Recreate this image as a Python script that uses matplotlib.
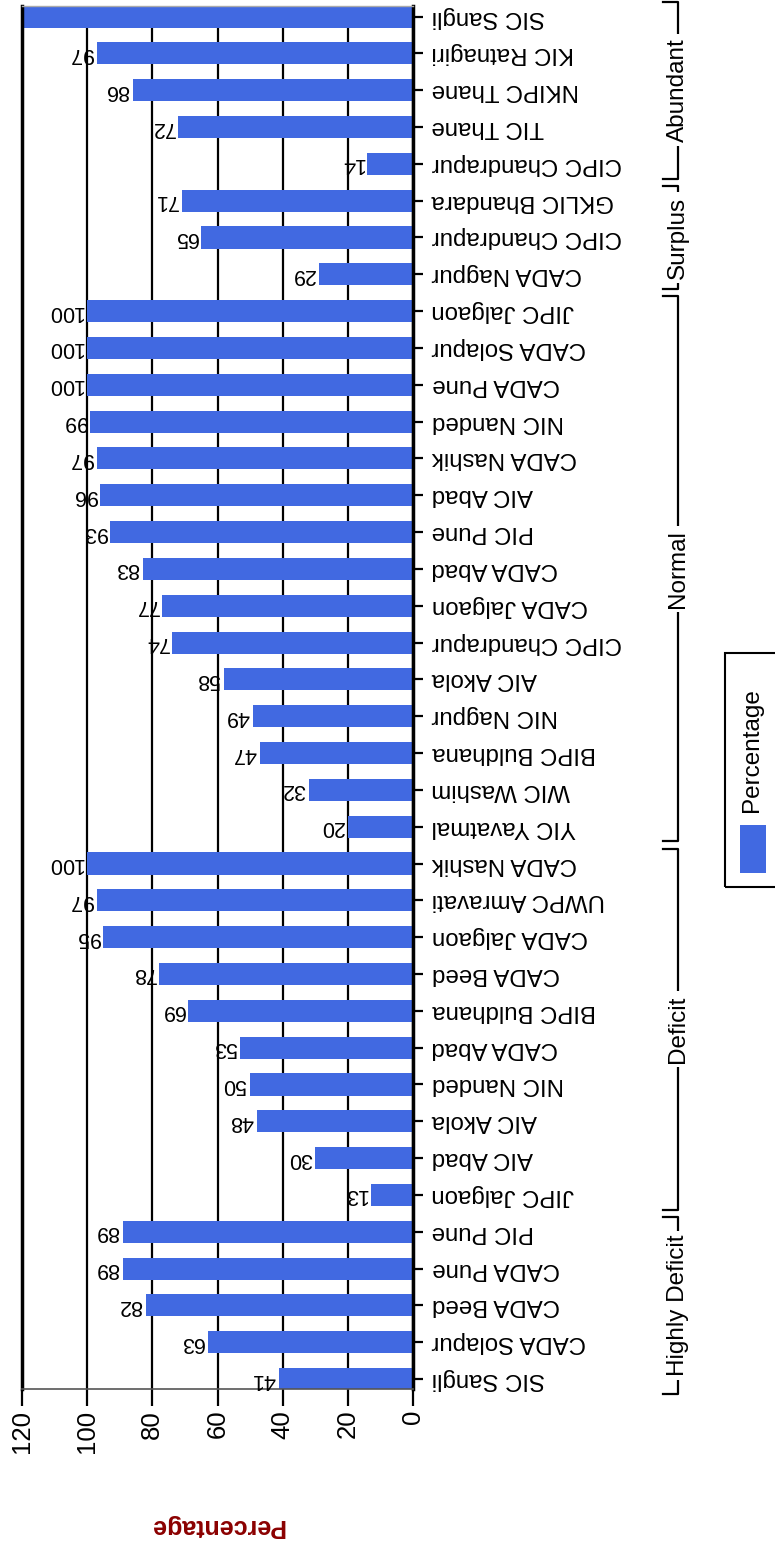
import matplotlib
matplotlib.use('Agg')
import matplotlib.pyplot as plt
from matplotlib.patches import Rectangle
from matplotlib.transforms import blended_transform_factory

plt.rcParams['font.family'] = ['Liberation Sans', 'DejaVu Sans']

# schemes in plotting order (bottom -> top)
schemes = ['SIC Sangli', 'CADA Solapur', 'CADA Beed', 'CADA Pune', 'PIC Pune',
           'JIPC Jalgaon', 'AIC Abad', 'AIC Akola', 'NIC Nanded', 'CADA Abad',
           'BIPC Buldhana', 'CADA Beed', 'CADA Jalgaon', 'UWPC Amravati', 'CADA Nashik',
           'YIC Yavatmal', 'WIC Washim', 'BIPC Buldhana', 'NIC Nagpur', 'AIC Akola',
           'CIPC Chandrapur', 'CADA Jalgaon', 'CADA Abad', 'PIC Pune', 'AIC Abad',
           'CADA Nashik', 'NIC Nanded', 'CADA Pune', 'CADA Solapur', 'JIPC Jalgaon',
           'CADA Nagpur', 'CIPC Chandrapur', 'GKLIC Bhandara',
           'CIPC Chandrapur', 'TIC Thane', 'NKIPC Thane', 'KIC Ratnagiri', 'SIC Sangli']
pct = [41, 63, 82, 89, 89,
       13, 30, 48, 50, 53, 69, 78, 95, 97, 100,
       20, 32, 47, 49, 58, 74, 77, 83, 93, 96, 97, 99, 100, 100, 100,
       29, 65, 71,
       14, 72, 86, 97, 130]
groups = ['Highly Deficit', 'Deficit', 'Normal', 'Surplus', 'Abundant']
group_sizes = [5, 10, 15, 3, 5]
ticks = [0, 20, 40, 60, 80, 100, 120]

W, H = 775, 1547
fig = plt.figure(figsize=(W / 100, H / 100), dpi=100)
ax = fig.add_axes([22 / W, 1 - 1389 / H, (413 - 22) / W, (1389 - 5.5) / H])

pos = list(range(len(schemes)))
ax.barh(pos, pct, height=0.6, color='#4169E1')
ax.set_xlim(120, 0)
ax.set_ylim(-0.27, 37.3)

# value labels (the last bar runs off the scale, so no label for it)
for i, v in enumerate(pct):
    if v <= 120:
        ax.annotate(str(v), (v, i), xytext=(-2.5, 0), textcoords='offset points',
                    rotation=180, ha='right', va='center', fontsize=15.5)

ax.set_axisbelow(True)
ax.xaxis.grid(True, color='black', lw=1.6)
ax.set_xticks(ticks)
ax.tick_params(axis='x', length=12, width=1.6, pad=3, labelsize=18.5, labelrotation=90)

ax.yaxis.tick_right()
ax.set_yticks(pos, schemes)
ax.tick_params(axis='y', length=7, width=1.6, pad=6.5, labelsize=17.3)
for lbl in ax.get_yticklabels():
    lbl.set_rotation(180)
    lbl.set_ha('left')
    lbl.set_va('center')

ax.spines['left'].set_linewidth(2.5)
ax.spines['right'].set_linewidth(2.5)
ax.spines['bottom'].set_color('#555555')
ax.spines['bottom'].set_linewidth(1.2)
ax.spines['top'].set_color('#aaaaaa')
ax.spines['top'].set_linewidth(1)

fig.text(217 / W, 1 - 1526 / H, 'Percentage', rotation=180, ha='center', va='center',
         fontsize=18, fontweight='bold', color='#8B0000')

# group brackets with their names
tr = blended_transform_factory(fig.transFigure, ax.transData)
x_line, x_tick = 678 / W, 663 / W
start = 0
for name, n in zip(groups, group_sizes):
    lo, hi = start - 0.4, start + n - 0.6
    ax.plot([x_tick, x_line, x_line, x_tick], [lo, lo, hi, hi], color='black', lw=1.6,
            transform=tr, clip_on=False)
    ax.text(x_line, (lo + hi) / 2, name, rotation=90, ha='center', va='center', fontsize=17.5,
            transform=tr, bbox=dict(facecolor='white', edgecolor='none', pad=3))
    start += n

# legend box
fig.patches.append(Rectangle((725 / W, 1 - 887 / H), 100 / W, 234 / H, fill=False,
                             edgecolor='black', lw=1.5, transform=fig.transFigure))
fig.patches.append(Rectangle((740 / W, 1 - 873 / H), 26 / W, 48 / H,
                             facecolor='#4169E1', edgecolor='none', transform=fig.transFigure))
fig.text(752 / W, 1 - 750 / H, 'Percentage', rotation=90, ha='center', va='center', fontsize=17.5)

fig.savefig('out.png', dpi=100)
